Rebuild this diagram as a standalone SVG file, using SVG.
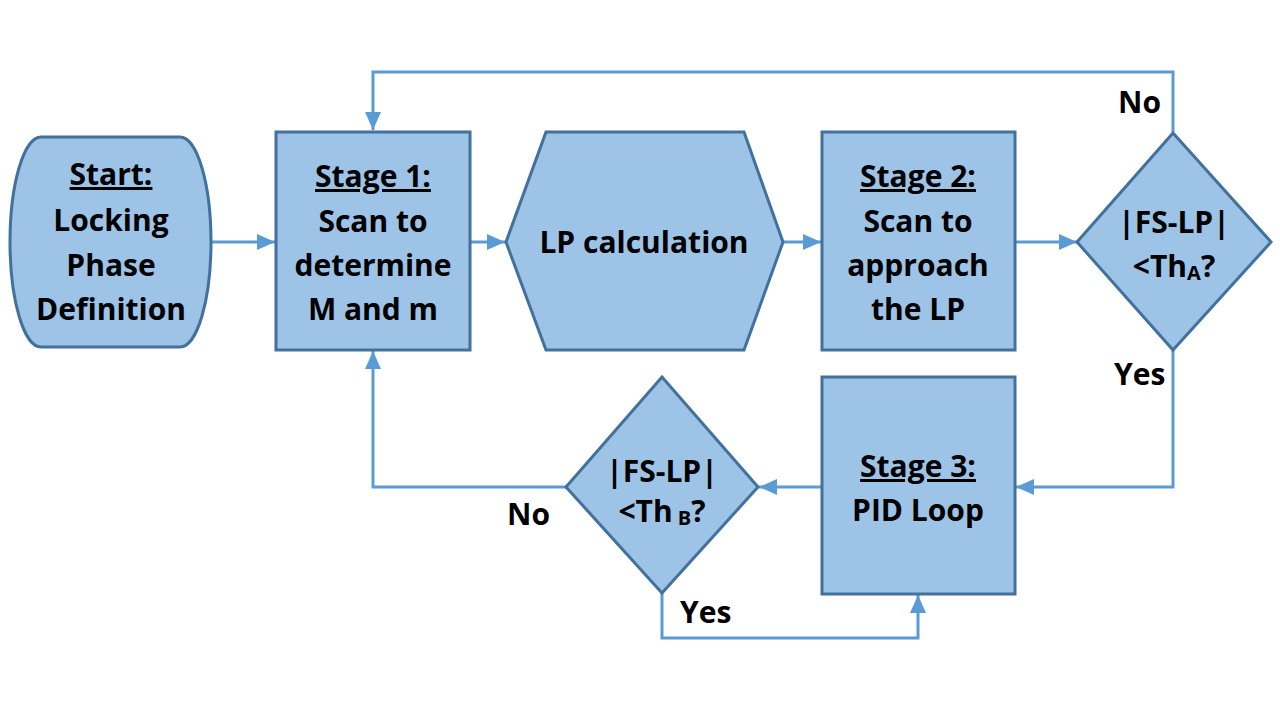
<svg xmlns="http://www.w3.org/2000/svg" width="1280" height="720" viewBox="0 0 1280 720">
<defs>
<style>
.node{fill:#9dc3e6;stroke:#41719c;stroke-width:3}
.t{font-family:"Open Sans","Liberation Sans",sans-serif;font-weight:bold;font-size:30px;fill:#000;text-anchor:middle}
.u{text-decoration:underline}
.c{fill:none;stroke:#5b9bd5;stroke-width:3}
.lbl{font-family:"Open Sans","Liberation Sans",sans-serif;font-weight:bold;font-size:30px;fill:#000}
</style>
<marker id="ah" markerUnits="userSpaceOnUse" markerWidth="20" markerHeight="20" viewBox="0 0 20 20" refX="18" refY="10" orient="auto">
<path d="M0,2 L18,10 L0,18 Z" fill="#5b9bd5"/>
</marker>
</defs>
<rect width="1280" height="720" fill="#fff"/>
<g id="connectors">
<line class="c" x1="212" y1="242" x2="275" y2="242" marker-end="url(#ah)"/>
<line class="c" x1="471" y1="242" x2="505" y2="242" marker-end="url(#ah)"/>
<line class="c" x1="784" y1="242" x2="821" y2="242" marker-end="url(#ah)"/>
<line class="c" x1="1016" y1="242" x2="1077" y2="242" marker-end="url(#ah)"/>
<polyline class="c" points="1173,132 1173,72 373,72 373,130" marker-end="url(#ah)"/>
<polyline class="c" points="1173,350 1173,487 1016,487" marker-end="url(#ah)"/>
<line class="c" x1="821" y1="487" x2="759" y2="487" marker-end="url(#ah)"/>
<polyline class="c" points="566,487 373,487 373,351" marker-end="url(#ah)"/>
<polyline class="c" points="662,593 662,638 918,638 918,595" marker-end="url(#ah)"/>
</g>
<g id="start">
<path class="node" d="M41,137 L180,137 A31,105 0 0 1 180,347 L41,347 A31,105 0 0 1 41,137 Z"/>
<text class="t" x="111" y="185"><tspan class="u">Start:</tspan></text>
<text class="t" x="111" y="231">Locking</text>
<text class="t" x="111" y="276">Phase</text>
<text class="t" x="111" y="320">Definition</text>
</g>
<g id="stage1">
<rect class="node" x="276" y="132" width="194" height="218"/>
<text class="t" x="373" y="187"><tspan class="u">Stage 1:</tspan></text>
<text class="t" x="373" y="232">Scan to</text>
<text class="t" x="373" y="276">determine</text>
<text class="t" x="373" y="320">M and m</text>
</g>
<g id="lpcalc">
<polygon class="node" points="506,242 546,132 744,132 783,242 744,350 546,350"/>
<text class="t" x="644" y="253">LP calculation</text>
</g>
<g id="stage2">
<rect class="node" x="822" y="132" width="193" height="218"/>
<text class="t" x="918" y="187"><tspan class="u">Stage 2:</tspan></text>
<text class="t" x="918" y="232">Scan to</text>
<text class="t" x="918" y="276">approach</text>
<text class="t" x="918" y="320">the LP</text>
</g>
<g id="decisionA">
<polygon class="node" points="1173,133 1271,242 1173,350 1077,242"/>
<text class="t" x="1174" y="233">|FS-LP|</text>
<text class="t" x="1174" y="277">&lt;Th<tspan font-size="20px" dy="3">A</tspan><tspan dy="-3">?</tspan></text>
</g>
<g id="stage3">
<rect class="node" x="822" y="377" width="193" height="217"/>
<text class="t" x="918" y="477"><tspan class="u">Stage 3:</tspan></text>
<text class="t" x="918" y="521">PID Loop</text>
</g>
<g id="decisionB">
<polygon class="node" points="662,377 758,487 662,593 566,487"/>
<text class="t" x="662" y="482">|FS-LP|</text>
<text class="t" x="662" y="522">&lt;Th<tspan font-size="20px" dy="3"> B</tspan><tspan dy="-3">?</tspan></text>
</g>
<g id="labels">
<text class="lbl" x="1161" y="113" text-anchor="end">No</text>
<text class="lbl" x="1114" y="385">Yes</text>
<text class="lbl" x="507" y="525">No</text>
<text class="lbl" x="680" y="623">Yes</text>
</g>
</svg>
